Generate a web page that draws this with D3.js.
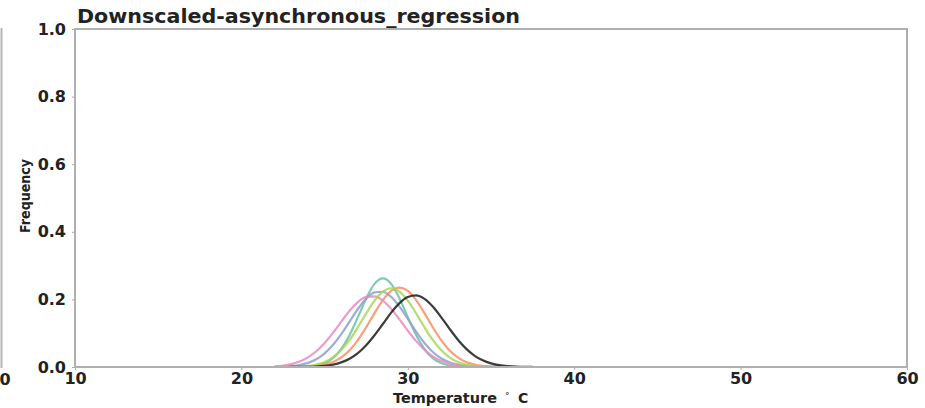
<!DOCTYPE html>
<html>
<meta charset="UTF-8">
<script src="https://d3js.org/d3.v7.min.js"></script>
<style>
  body { margin: 0; background: #fff; }
  text { font-family: "DejaVu Sans", sans-serif; font-weight: bold; }
</style>
<body>
<div id="chart"></div>
<script>

// temperature grid (deg C) shared by all curves
var temps = [22, 22.5, 23, 23.5, 24, 24.5, 25, 25.5, 26, 26.5, 27, 27.5, 28, 28.5, 29, 29.5,
             30, 30.5, 31, 31.5, 32, 32.5, 33, 33.5, 34, 34.5, 35, 35.5, 36, 36.5, 37, 37.5];

// frequency curves
var tealFreq = [0, 0, 0.0001, 0.0004, 0.0015, 0.0044, 0.0115, 0.0264, 0.0532, 0.0944, 0.1476, 0.2030, 0.2458, 0.262, 0.2458, 0.2030,
                0.1476, 0.0944, 0.0532, 0.0264, 0.0115, 0.0044, 0.0015, 0.0004, 0.0001, 0, 0, 0, 0, 0, 0, 0];
var orangeFreq = [0, 0, 0.0002, 0.0005, 0.0013, 0.0031, 0.0071, 0.0148, 0.0282, 0.0495, 0.0797, 0.1176, 0.1592, 0.1977, 0.2251, 0.235,
                  0.2251, 0.1977, 0.1592, 0.1176, 0.0797, 0.0495, 0.0282, 0.0148, 0.0071, 0.0031, 0.0013, 0.0005, 0.0002, 0, 0, 0];
var blueFreq = [0.0004, 0.0011, 0.0027, 0.0059, 0.0121, 0.0229, 0.0402, 0.0650, 0.0972, 0.1344, 0.1716, 0.2025, 0.2208, 0.2226, 0.2073, 0.1785,
                0.1420, 0.1044, 0.0709, 0.0445, 0.0258, 0.0138, 0.0069, 0.0031, 0.0013, 0.0005, 0.0002, 0.0001, 0, 0, 0, 0];
var pinkFreq = [0.0020, 0.0043, 0.0086, 0.0162, 0.0284, 0.0465, 0.0709, 0.1009, 0.1340, 0.1662, 0.1922, 0.2074, 0.2088, 0.1962, 0.1720, 0.1407,
                0.1075, 0.0765, 0.0509, 0.0315, 0.0182, 0.0098, 0.0050, 0.0023, 0.0010, 0.0004, 0.0002, 0.0001, 0, 0, 0, 0];
var greenFreq = [0.0001, 0.0002, 0.0005, 0.0013, 0.0032, 0.0073, 0.0151, 0.0287, 0.050, 0.080, 0.1176, 0.1586, 0.1964, 0.2232, 0.233, 0.2232,
                 0.1964, 0.1586, 0.1176, 0.080, 0.050, 0.0287, 0.0151, 0.0073, 0.0032, 0.0013, 0.0005, 0.0002, 0.0001, 0, 0, 0];
var blackFreq = [0, 0, 0.0001, 0.0003, 0.0006, 0.0015, 0.0034, 0.0071, 0.0137, 0.0246, 0.0413, 0.0645, 0.0939, 0.1272, 0.1607, 0.1890,
                 0.2072, 0.2117, 0.2015, 0.1787, 0.1476, 0.1136, 0.0815, 0.0544, 0.0339, 0.0197, 0.0106, 0.0053, 0.0025, 0.0011, 0.0004, 0.0002];

var xTicks = [10, 20, 30, 40, 50, 60];
var yTicks = [0.0, 0.2, 0.4, 0.6, 0.8, 1.0];

var series = [
  { color: "#66c2a5", values: tealFreq },
  { color: "#fc8d62", values: orangeFreq },
  { color: "#8da0cb", values: blueFreq },
  { color: "#e78ac3", values: pinkFreq },
  { color: "#a6d854", values: greenFreq },
  { color: "#1a1a1a", values: blackFreq }
];

var W = 925, H = 408;
var margin = { top: 29, right: 18, bottom: 41, left: 75 },
    width = W - margin.left - margin.right,
    height = H - margin.top - margin.bottom;

var svg = d3.select("#chart").append("svg")
  .attr("width", W)
  .attr("height", H);

// edge of the neighbouring panel, cut off at the left
svg.append("line")
  .attr("x1", 1.5).attr("x2", 1.5)
  .attr("y1", margin.top - 1).attr("y2", margin.top + height + 1)
  .attr("stroke", "#b5b5b5").attr("stroke-width", 2);
svg.append("text")
  .attr("x", 5).attr("y", margin.top + height + 18)
  .attr("text-anchor", "middle")
  .style("font-size", "16px").attr("fill", "#222")
  .text("0");

var g = svg.append("g")
  .attr("transform", "translate(" + margin.left + "," + margin.top + ")");

var x = d3.scaleLinear().domain([10, 60]).range([0, width]);
var y = d3.scaleLinear().domain([0, 1]).range([height, 0]);

// curves
var line = d3.line()
  .x(function (d) { return x(d[0]); })
  .y(function (d) { return y(d[1]); })
  .curve(d3.curveMonotoneX);

series.forEach(function (s) {
  g.append("path")
    .datum(temps.map(function (t, i) { return [t, s.values[i]]; }))
    .attr("fill", "none")
    .attr("stroke", s.color)
    .attr("stroke-opacity", 0.85)
    .attr("stroke-width", 2.2)
    .attr("d", line);
});

// axes
var xAxis = g.append("g")
  .attr("transform", "translate(0," + height + ")")
  .call(d3.axisBottom(x).tickValues(xTicks).tickSize(3).tickPadding(3));
var yAxis = g.append("g")
  .call(d3.axisLeft(y).tickValues(yTicks).tickSize(3).tickPadding(6).tickFormat(d3.format(".1f")));

[xAxis, yAxis].forEach(function (a) {
  a.select(".domain").remove();
  a.selectAll("line").attr("stroke", "#aaa");
  a.selectAll("text").style("font-size", "16px").attr("fill", "#222")
    .style("font-family", "DejaVu Sans").style("font-weight", "bold");
});

// frame
g.append("rect")
  .attr("width", width).attr("height", height)
  .attr("fill", "none")
  .attr("stroke", "#b0b0b0").attr("stroke-width", 2);

// titles
svg.append("text")
  .attr("x", margin.left + 2).attr("y", 23)
  .style("font-size", "20px").attr("fill", "#222")
  .attr("textLength", 443).attr("lengthAdjust", "spacingAndGlyphs")
  .text("Downscaled-asynchronous_regression");

svg.append("text")
  .attr("transform", "translate(30,196) rotate(-90)")
  .attr("text-anchor", "middle")
  .style("font-size", "13.5px").attr("fill", "#222")
  .attr("textLength", 74).attr("lengthAdjust", "spacingAndGlyphs")
  .text("Frequency");

var xl = svg.append("text")
  .attr("y", 403)
  .style("font-size", "14px").attr("fill", "#222");
xl.append("tspan").attr("x", 393)
  .attr("textLength", 104).attr("lengthAdjust", "spacingAndGlyphs")
  .text("Temperature");
xl.append("tspan").attr("x", 505).attr("dy", -4).style("font-size", "9px").style("font-weight", "normal").text("\u00B0");
xl.append("tspan").attr("x", 518).attr("dy", 4).text("C");

</script>
</body>
</html>
